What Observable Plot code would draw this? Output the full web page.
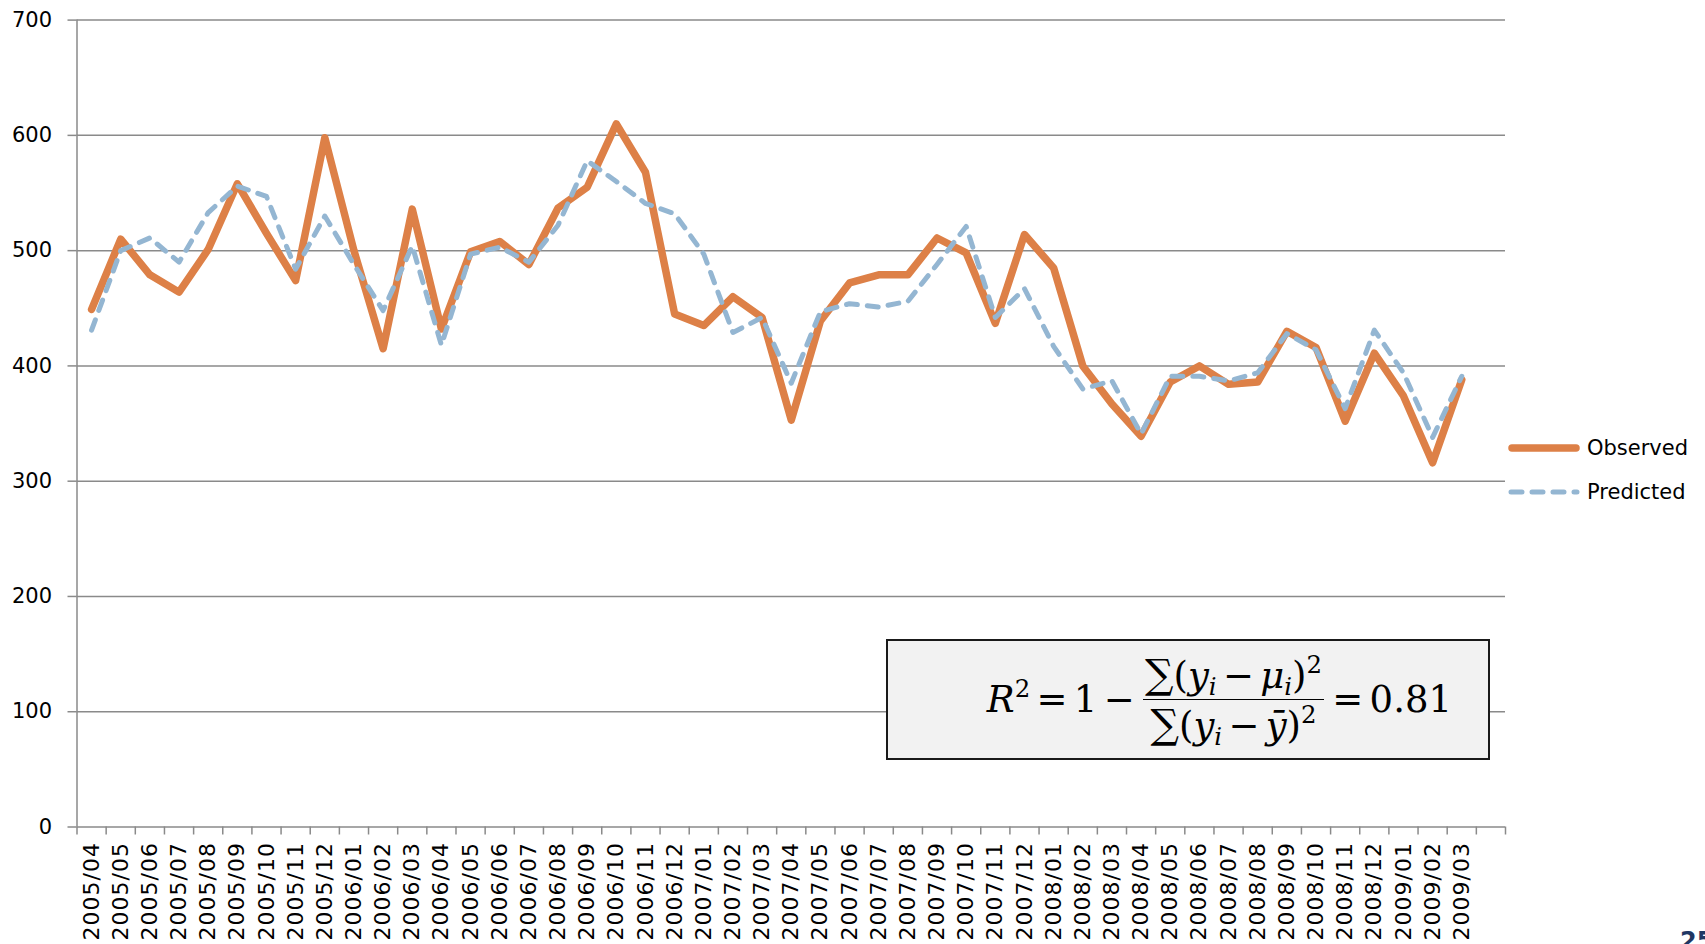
<!DOCTYPE html>
<html>
<head>
<meta charset="utf-8">
<script src="https://cdn.jsdelivr.net/npm/d3@7"></script>
<script src="https://cdn.jsdelivr.net/npm/@observablehq/plot@0.6"></script>
<style>
  html, body { margin: 0; padding: 0; background: #fff; overflow: hidden; }
  #wrap { position: relative; width: 1705px; height: 944px; }
  #chart svg { display: block; }
  g[aria-label="x-axis tick label"] text { letter-spacing: 1px; }
  #eqbox {
    position: absolute; left: 886px; top: 639px; width: 604px; height: 121px;
    box-sizing: border-box; border: 2px solid #1a1a1a; background: #f2f2f2;
    display: flex; align-items: center; justify-content: flex-end; padding-right: 36px;
    font-family: "DejaVu Serif", serif; font-size: 37px; color: #000; white-space: nowrap;
  }
  #eqbox i { font-style: italic; }
  #eqbox sup { font-size: 0.66em; vertical-align: 0.6em; line-height: 0; }
  #eqbox sub { font-size: 0.66em; vertical-align: -0.3em; line-height: 0; }
  #eqbox .op { margin: 0 0.17em; }
  #eqbox .sum { font-size: 1.08em; }
  .frac { display: inline-flex; flex-direction: column; align-items: center; margin: 0 2px; }
  .frac .num { border-bottom: 1.5px solid #000; padding: 0 2px 2px 2px; line-height: 1.12; }
  .frac .den { padding: 2px 2px 0 2px; line-height: 1.12; }
  .legrow { position: absolute; left: 1508px; height: 30px; display: flex; align-items: center;
    font-family: "DejaVu Sans", sans-serif; font-size: 21px; color: #000; }
  .legrow svg { display: block; margin-right: 7px; }
  #slideno { position: absolute; left: 1680px; top: 929px; font-family: "DejaVu Sans", sans-serif;
    font-weight: bold; font-size: 24px; line-height: 24px; color: #1f3864; }
</style>
</head>
<body>
<div id="wrap">
  <div id="chart"></div>
  <div id="eqbox">
    <span><i>R</i><sup>2</sup><span class="op">=</span>1<span class="op">−</span></span>
    <span class="frac">
      <span class="num"><span class="sum">∑</span>(<i>y</i><sub><i>i</i></sub><span class="op">−</span><i>μ</i><sub><i>i</i></sub>)<sup>2</sup></span>
      <span class="den"><span class="sum">∑</span>(<i>y</i><sub><i>i</i></sub><span class="op">−</span><i>ȳ</i>)<sup>2</sup></span>
    </span>
    <span><span class="op">=</span>0.81</span>
  </div>
  <div class="legrow" style="top:433px">
    <svg width="72" height="30"><line x1="4" x2="68" y1="15" y2="15" stroke="#DD8047" stroke-width="7.5" stroke-linecap="round"/></svg>
    <span>Observed</span>
  </div>
  <div class="legrow" style="top:477px">
    <svg width="72" height="30"><line x1="3" x2="69" y1="15" y2="15" stroke="#94B6D2" stroke-width="5" stroke-linecap="round" stroke-dasharray="11,10"/></svg>
    <span>Predicted</span>
  </div>
  <div id="slideno">25</div>
</div>
<script>
const months = [
  "2005/04","2005/05","2005/06","2005/07","2005/08","2005/09","2005/10","2005/11","2005/12",
  "2006/01","2006/02","2006/03","2006/04","2006/05","2006/06","2006/07","2006/08","2006/09","2006/10","2006/11","2006/12",
  "2007/01","2007/02","2007/03","2007/04","2007/05","2007/06","2007/07","2007/08","2007/09","2007/10","2007/11","2007/12",
  "2008/01","2008/02","2008/03","2008/04","2008/05","2008/06","2008/07","2008/08","2008/09","2008/10","2008/11","2008/12",
  "2009/01","2009/02","2009/03"
];
const observed = [
  449, 510, 479, 464, 501, 558, 515, 474, 598,
  500, 415, 536, 432, 499, 508, 488, 537, 555, 610, 568, 445,
  435, 460, 442, 353, 439, 472, 479, 479, 511, 498, 437, 514,
  485, 400, 367, 339, 386, 400, 384, 386, 430, 416, 352, 411,
  374, 316, 388
];
const predicted = [
  431, 500, 511, 490, 533, 556, 547, 484, 530,
  488, 448, 504, 418, 497, 503, 490, 522, 578, 560, 541, 532,
  497, 429, 442, 385, 447, 454, 451, 456, 488, 521, 442, 467,
  417, 380, 387, 341, 391, 391, 387, 394, 428, 414, 363, 431,
  394, 338, 391
];
const yTicks = [0, 100, 200, 300, 400, 500, 600, 700];
// category slots: 48 months plus one empty trailing slot (as in the original axis)
const slotCount = months.length + 1;

const data = months.map((m, i) => ({slot: i + 0.5, month: m, observed: observed[i], predicted: predicted[i]}));
const gridColor = "#8a8a8a";

const chart = Plot.plot({
  width: 1705,
  height: 944,
  marginLeft: 76.5,
  marginRight: 200,
  marginTop: 19.6,
  marginBottom: 117.5,
  style: {fontFamily: "DejaVu Sans, sans-serif", background: "transparent"},
  x: {type: "linear", domain: [0, slotCount]},
  y: {domain: [0, 700]},
  marks: [
    Plot.gridY(yTicks, {stroke: gridColor, strokeOpacity: 1, strokeWidth: 1.5}),
    Plot.ruleX([0], {stroke: gridColor, strokeWidth: 1.5}),
    Plot.axisY({ticks: yTicks, tickSize: 9, tickPadding: 16, stroke: gridColor, strokeWidth: 1.5,
      fill: "#000", fontSize: 21, label: null}),
    Plot.axisX({ticks: d3.range(0, slotCount + 1), tickSize: 8, tickFormat: () => "",
      stroke: gridColor, strokeWidth: 1.5, label: null}),
    Plot.axisX({ticks: data.map(d => d.slot), tickSize: 0, tickPadding: 15, tickRotate: -90,
      tickFormat: v => months[Math.round(v - 0.5)], fill: "#000", fontSize: 22, label: null}),
    Plot.line(data, {x: "slot", y: "observed", stroke: "#DD8047", strokeWidth: 7.5,
      strokeLinejoin: "round", strokeLinecap: "round"}),
    Plot.line(data, {x: "slot", y: "predicted", stroke: "#94B6D2", strokeWidth: 5,
      strokeDasharray: "11,10", strokeLinejoin: "round", strokeLinecap: "round"})
  ]
});
document.getElementById("chart").appendChild(chart);
</script>
</body>
</html>
